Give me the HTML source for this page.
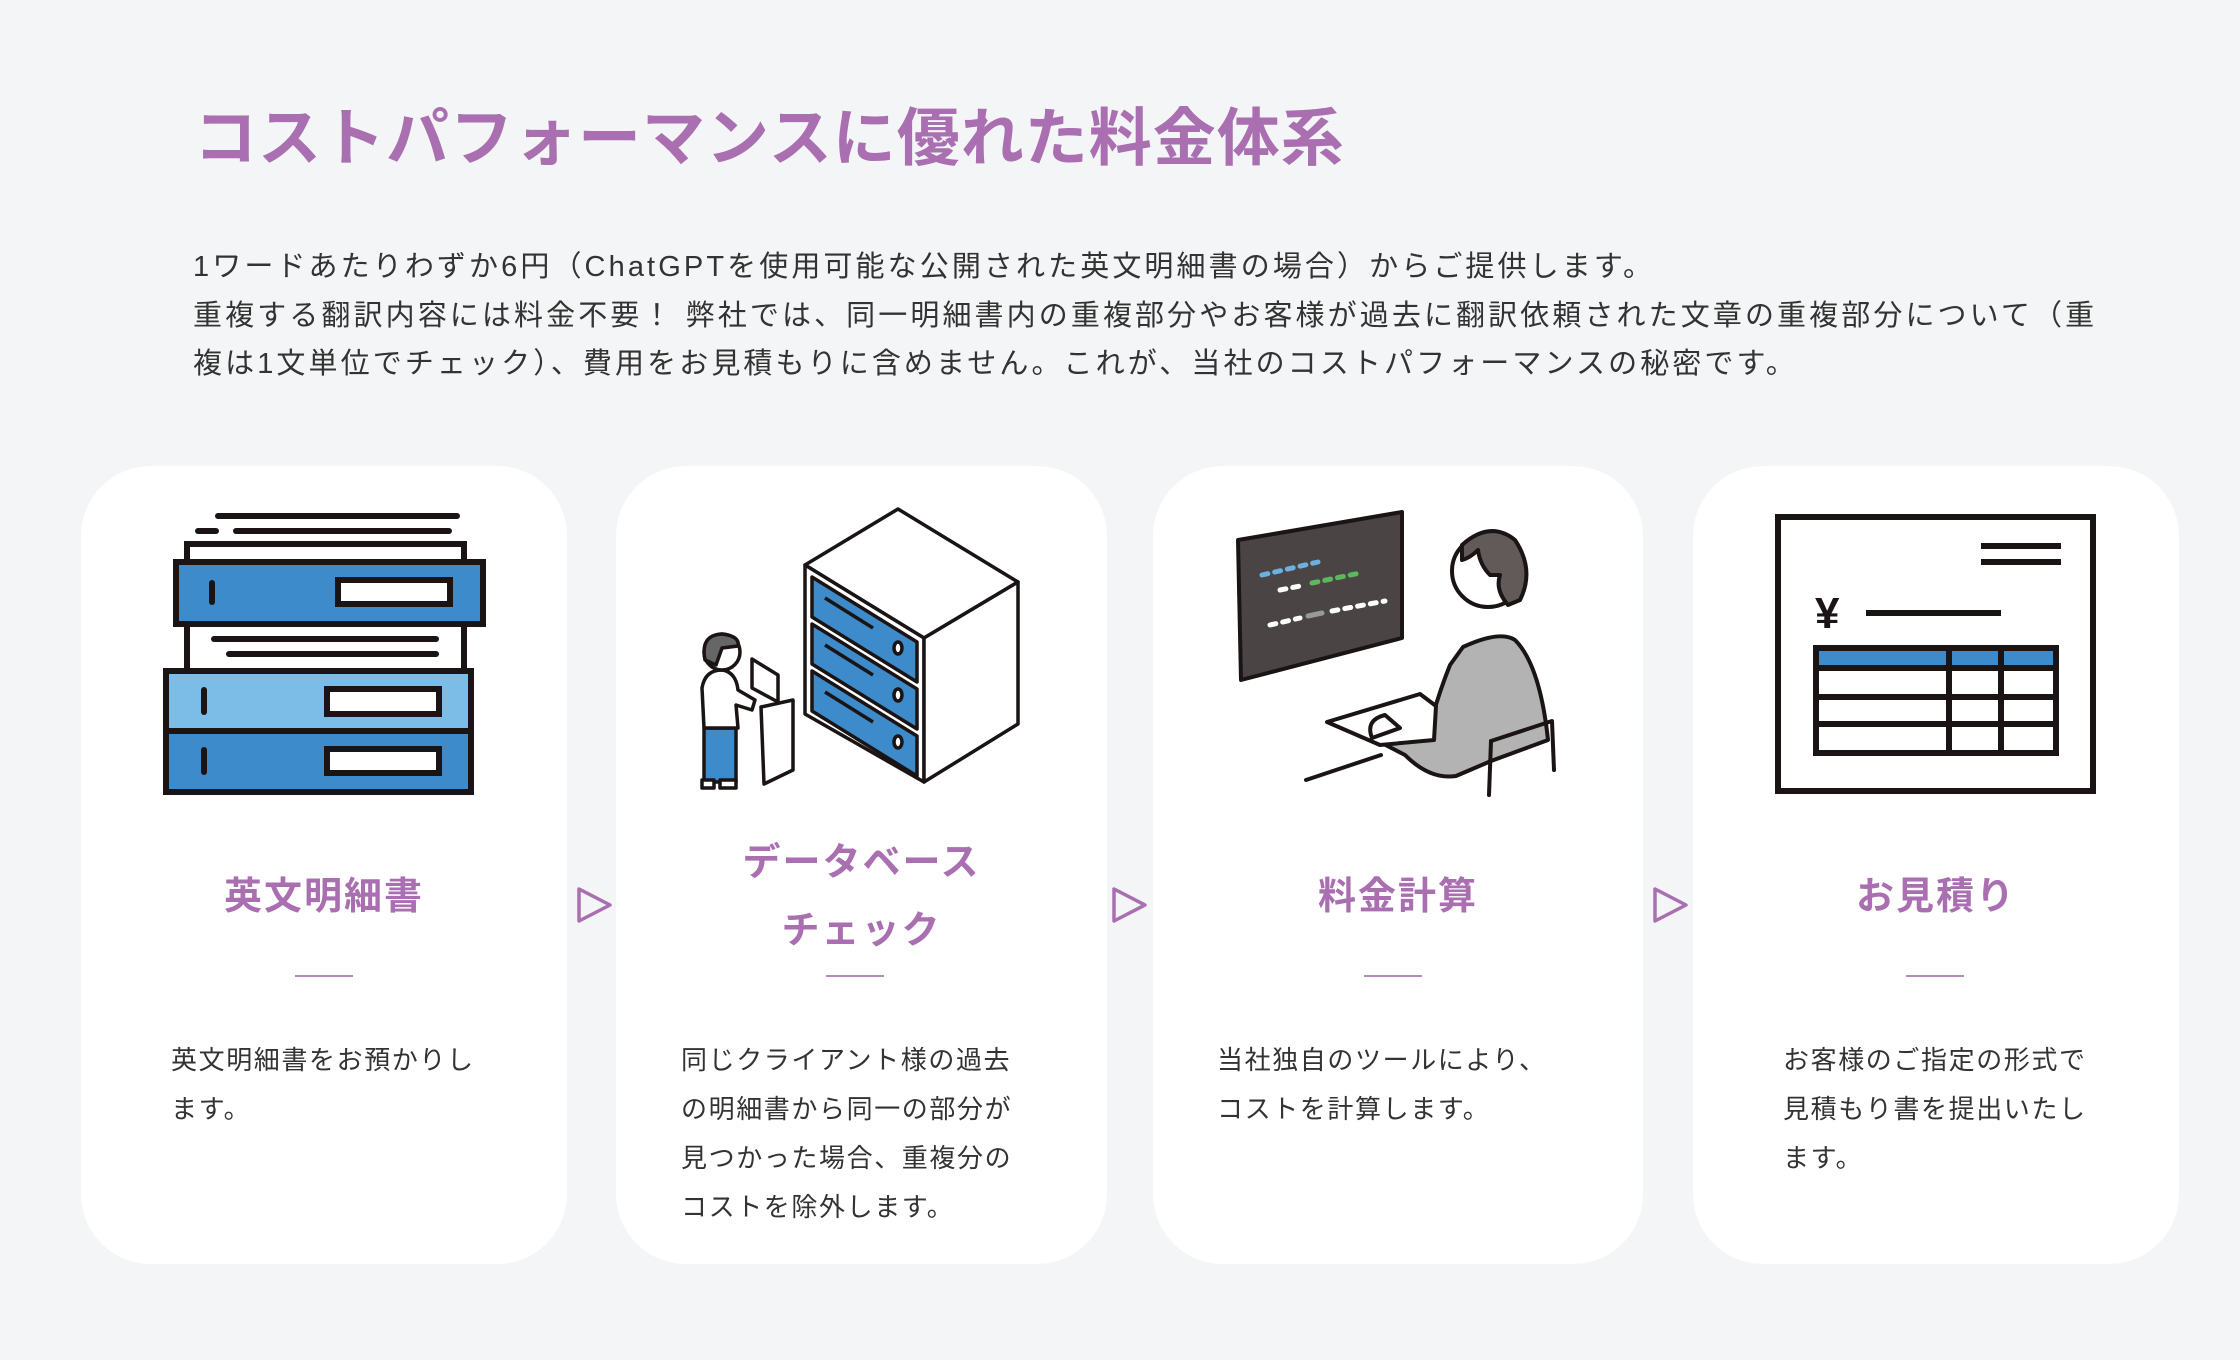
<!DOCTYPE html>
<html><head><meta charset="utf-8">
<style>
*{margin:0;padding:0;box-sizing:border-box}
body{width:2240px;height:1360px;background:#f4f5f7;position:relative;overflow:hidden;font-family:"Liberation Sans","Noto Sans CJK JP",sans-serif;}
.t{position:absolute;left:194px;top:102px;font-size:63px;line-height:74px;font-weight:700;color:#a96fb0;letter-spacing:1px;white-space:nowrap}
.p{position:absolute;left:193px;top:243px;font-size:29px;line-height:48.5px;color:#333;letter-spacing:3.1px;white-space:nowrap}
.card{position:absolute;top:466px;height:798px;background:#fff;border-radius:70px}
.h{position:absolute;font-size:38px;font-weight:700;color:#a96fb0;letter-spacing:2px;text-align:center;line-height:68px;white-space:nowrap}
.d{position:absolute;top:975px;height:2px;width:58px;background:#b788bd}
.b{position:absolute;top:1036px;font-size:26px;line-height:49px;color:#333;letter-spacing:1.6px;white-space:nowrap}
svg{position:absolute;left:0;top:0}
</style></head><body>
<div class="t">コストパフォーマンスに優れた料金体系</div>
<div class="p">1ワードあたりわずか6円（ChatGPTを使用可能な公開された英文明細書の場合）からご提供します。<br>重複する翻訳内容には料金不要！ 弊社では、同一明細書内の重複部分やお客様が過去に翻訳依頼された文章の重複部分について（重<br>複は1文単位でチェック）、費用をお見積もりに含めません。これが、当社のコストパフォーマンスの秘密です。</div>

<div class="card" style="left:81px;width:486px"></div>
<div class="card" style="left:616px;width:491px"></div>
<div class="card" style="left:1153px;width:490px"></div>
<div class="card" style="left:1693px;width:486px"></div>

<div class="h" style="left:81px;width:486px;top:863px">英文明細書</div>
<div class="h" style="left:616px;width:491px;top:829px">データベース<br>チェック</div>
<div class="h" style="left:1153px;width:490px;top:863px">料金計算</div>
<div class="h" style="left:1693px;width:486px;top:863px">お見積り</div>

<div class="d" style="left:295px"></div>
<div class="d" style="left:826px"></div>
<div class="d" style="left:1364px"></div>
<div class="d" style="left:1906px"></div>

<div class="b" style="left:171px">英文明細書をお預かりし<br>ます。</div>
<div class="b" style="left:681px">同じクライアント様の過去<br>の明細書から同一の部分が<br>見つかった場合、重複分の<br>コストを除外します。</div>
<div class="b" style="left:1217px">当社独自のツールにより、<br>コストを計算します。</div>
<div class="b" style="left:1783px">お客様のご指定の形式で<br>見積もり書を提出いたし<br>ます。</div>

<svg width="2240" height="1360" viewBox="0 0 2240 1360">
<g fill="none" stroke="#a96fb0" stroke-width="3.5" stroke-linejoin="round">
<polygon points="579,889 610,905 579,921"/>
<polygon points="1114,889 1145,905 1114,921"/>
<polygon points="1655,889 1686,905 1655,921"/>
</g>
<g stroke="#1a1414" stroke-width="6" stroke-linecap="round">
<line x1="218" y1="516" x2="457" y2="516"/>
<line x1="198" y1="531" x2="216" y2="531"/>
<line x1="236" y1="531" x2="449" y2="531"/>
<rect x="187" y="544" width="277" height="20" fill="#fff"/>
<rect x="176" y="562" width="307" height="62" fill="#3d8bcb"/>
<line x1="212" y1="583" x2="212" y2="602"/>
<rect x="338" y="580" width="112" height="24" fill="#fff"/>
<rect x="187" y="624" width="277" height="47" fill="#fff"/>
<line x1="214" y1="639" x2="436" y2="639"/>
<line x1="229" y1="654" x2="436" y2="654"/>
<rect x="166" y="671" width="305" height="60" fill="#7bbde6"/>
<line x1="204" y1="690" x2="204" y2="712"/>
<rect x="327" y="689" width="112" height="25" fill="#fff"/>
<rect x="166" y="731" width="305" height="61" fill="#3d8bcb"/>
<line x1="204" y1="750" x2="204" y2="772"/>
<rect x="327" y="749" width="112" height="24" fill="#fff"/>
</g>
<g stroke="#1a1414" stroke-width="3.5" stroke-linejoin="round">
<polygon points="898,509 1018,582 924,638 805,565" fill="#fff"/>
<polygon points="805,565 924,638 924,782 805,714" fill="#fff"/>
<polygon points="924,638 1018,582 1018,724 924,782" fill="#fff"/>
<polygon points="812,577 917,642 917,682 812,617" fill="#3d8bcb"/>
<polygon points="812,624 917,689 917,729 812,664" fill="#3d8bcb"/>
<polygon points="812,671 917,736 917,776 812,711" fill="#3d8bcb"/>
<line x1="825" y1="598" x2="873" y2="628"/>
<line x1="825" y1="645" x2="873" y2="675"/>
<line x1="825" y1="692" x2="873" y2="722"/>
<ellipse cx="898" cy="648" rx="4" ry="6" fill="#fff"/>
<ellipse cx="898" cy="695" rx="4" ry="6" fill="#fff"/>
<ellipse cx="898" cy="742" rx="4" ry="6" fill="#fff"/>
<polygon points="761,707 793,700 793,770 764,784" fill="#fff"/>
<polygon points="752,659 778,675 778,702 752,688" fill="#fff"/>
<rect x="704" y="728" width="32" height="54" fill="#3d8bcb"/>
<path d="M704,728 L702,688 Q705,670 722,670 Q736,672 738,690 L755,700 L752,710 L736,705 L738,728 Z" fill="#fff"/>
<circle cx="722" cy="652" r="18" fill="#fff"/>
<path d="M705,660 Q700,635 722,634 Q740,636 738,646 L722,648 L716,665 Z" fill="#666"/>
<rect x="702" y="780" width="12" height="8" fill="#fff"/>
<rect x="720" y="780" width="16" height="8" fill="#fff"/>
</g>
<g stroke="#1a1414" stroke-width="4" stroke-linejoin="round" stroke-linecap="round">
<polygon points="1238,540 1402,512 1402,638 1241,680" fill="#4a4444"/>
<path d="M1463,647 Q1500,630 1515,640 Q1540,665 1548,740 L1491,761 L1456,776 Q1430,780 1405,755 L1372,738 L1380,720 L1432,718 Q1440,690 1450,665 Z" fill="#b3b3b3"/>
<polygon points="1327,722 1420,694 1436,706 1434,740 1380,745" fill="#fff"/>
<path d="M1372,738 Q1365,720 1385,715 L1400,728 Z" fill="#fff"/>
<circle cx="1488" cy="571" r="36" fill="#fff"/>
<path d="M1462,545 Q1490,520 1515,540 Q1535,570 1520,600 L1508,605 Q1495,590 1500,575 L1490,575 Q1480,565 1478,550 Q1470,558 1462,560 Z" fill="#625a58"/>
<line x1="1306" y1="780" x2="1381" y2="755"/>
<line x1="1491" y1="741" x2="1489" y2="795"/>
<polyline points="1491,741 1552,721 1554,770" fill="none"/>
</g>
<g stroke-width="5" stroke-linecap="round" stroke-dasharray="6 7">
<line x1="1262" y1="575" x2="1318" y2="562" stroke="#6ab0e0"/>
<line x1="1280" y1="590" x2="1300" y2="586" stroke="#fff"/>
<line x1="1312" y1="583" x2="1360" y2="573" stroke="#5cb85c"/>
<line x1="1270" y1="625" x2="1300" y2="618" stroke="#fff"/>
<line x1="1308" y1="616" x2="1322" y2="613" stroke="#999" stroke-dasharray="none"/>
<line x1="1332" y1="611" x2="1385" y2="601" stroke="#fff"/>
</g>
<g stroke="#1a1414" stroke-width="6">
<rect x="1778" y="517" width="315" height="274" fill="#fff"/>
<line x1="1981" y1="546" x2="2061" y2="546"/>
<line x1="1981" y1="562" x2="2061" y2="562"/>
<line x1="1866" y1="613" x2="2001" y2="613"/>
<rect x="1816" y="648" width="240" height="105" fill="#fff"/>
<rect x="1816" y="648" width="240" height="20" fill="#3d8bcb"/>
<line x1="1816" y1="697" x2="2056" y2="697"/>
<line x1="1816" y1="724" x2="2056" y2="724"/>
<line x1="1949" y1="648" x2="1949" y2="753"/>
<line x1="2001" y1="648" x2="2001" y2="753"/>
</g>
<text x="1815" y="628" font-family="Liberation Sans,sans-serif" font-size="44" font-weight="700" fill="#1a1414">¥</text>
</svg>
</body></html>
